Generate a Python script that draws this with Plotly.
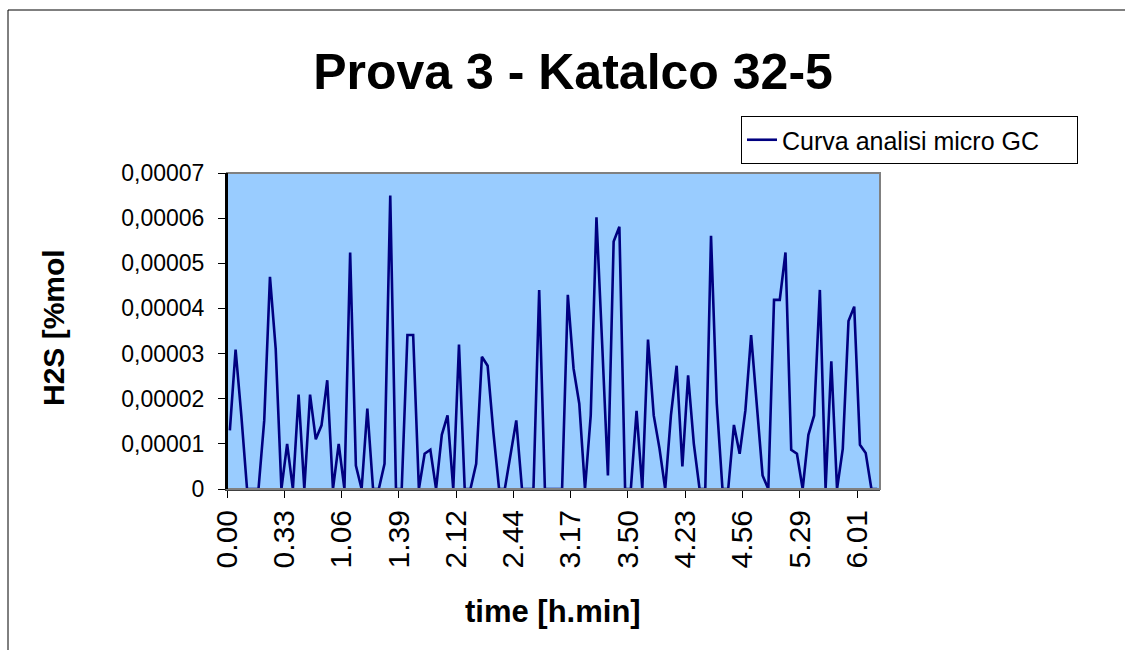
import plotly.graph_objects as go

# H2S values (units of 1e-5 %mol), one point per micro GC analysis
h2s_e5 = [
    1.30, 3.09, 1.63, 0, 0, 0, 1.52, 4.70, 3.11, 0,
    1.00, 0, 2.09, 0, 2.09, 1.10, 1.41, 2.41, 0, 1.00,
    0, 5.24, 0.52, 0, 1.78, 0, 0, 0.56, 6.50, 0,
    0, 3.41, 3.41, 0, 0.78, 0.87, 0, 1.20, 1.63, 0,
    3.20, 0, 0, 0.56, 2.93, 2.73, 1.26, 0, 0, 0.74,
    1.52, 0, 0, 0, 4.41, 0, 0, 0, 0, 4.30,
    2.67, 1.89, 0, 1.63, 6.02, 3.20, 0.30, 5.48, 5.81, 0,
    0, 1.73, 0, 3.31, 1.63, 0.90, 0, 1.63, 2.73, 0.50,
    2.52, 1.00, 0, 0, 5.61, 1.90, 0, 0, 1.42, 0.78,
    1.74, 3.41, 1.75, 0.30, 0, 4.19, 4.19, 5.24, 0.87, 0.78,
    0, 1.20, 1.63, 4.41, 0, 2.83, 0, 0.89, 3.72, 4.04,
    0.98, 0.80, 0, 0,
]
h2s = [v * 1e-5 for v in h2s_e5]
sample_index = list(range(len(h2s)))

x_tick_labels = ["0.00", "0.33", "1.06", "1.39", "2.12", "2.44",
                 "3.17", "3.50", "4.23", "4.56", "5.29", "6.01"]
x_tick_step = 10

y_tick_values = [0, 1e-5, 2e-5, 3e-5, 4e-5, 5e-5, 6e-5, 7e-5]
y_tick_labels = ["0", "0,00001", "0,00002", "0,00003", "0,00004",
                 "0,00005", "0,00006", "0,00007"]

FONT = "Liberation Sans, Arial, sans-serif"

# plot area pixel geometry
L, R, T, B = 227, 880, 173, 489
W, H = 1125, 650
pw, ph = R - L, B - T

def px(x):
    return (x - L) / pw

def py(y):
    return (B - y) / ph

fig = go.Figure()
fig.add_trace(go.Scatter(
    x=sample_index, y=h2s, mode="lines",
    name="Curva analisi micro GC",
    line=dict(color="#000080", width=2.6),
))

fig.update_layout(
    width=W, height=H,
    margin=dict(l=L, r=W - R, t=T, b=H - B),
    paper_bgcolor="white",
    plot_bgcolor="#99CCFF",
    font=dict(family=FONT, color="black"),
    showlegend=True,
    legend=dict(
        orientation="h",
        x=px(741), y=py(116), xanchor="left", yanchor="top",
        bgcolor="white", bordercolor="black", borderwidth=1,
        font=dict(size=25, family=FONT),
        itemwidth=30,
        entrywidth=290, entrywidthmode="pixels",
    ),
    title=dict(
        text="<b>Prova 3 - Katalco 32-5</b>",
        font=dict(size=50, family=FONT),
        x=573 / W, xanchor="center", xref="container",
        y=1 - 71 / H, yanchor="middle", yref="container",
    ),
)

fig.update_xaxes(
    range=[-0.5, len(h2s) - 0.5],
    tickmode="array",
    tickvals=[k * x_tick_step - 0.5 for k in range(len(x_tick_labels))],
    ticktext=x_tick_labels,
    tickangle=-90,
    tickfont=dict(size=30, family=FONT),
    ticks="outside", ticklen=7, tickcolor="black",
    ticklabelstandoff=0,
    showgrid=False, zeroline=False,
    showline=True, linecolor="#404040", linewidth=2,
)
fig.update_yaxes(
    range=[0, 7e-5],
    tickmode="array",
    tickvals=y_tick_values,
    ticktext=y_tick_labels,
    tickfont=dict(size=23, family=FONT),
    ticks="outside", ticklen=7, tickcolor="black",
    ticklabelstandoff=9,
    showgrid=False, zeroline=False,
    showline=True, linecolor="black", linewidth=2,
)

# plot area border (top/right gray) and chart frame
fig.add_shape(type="rect", xref="paper", yref="paper", x0=0, y0=0, x1=1, y1=1,
              line=dict(color="#808080", width=2), layer="above")
fig.add_shape(type="line", xref="paper", yref="paper",
              x0=0, y0=0, x1=0, y1=1, line=dict(color="black", width=2), layer="above")
fig.add_shape(type="line", xref="paper", yref="paper",
              x0=px(8), y0=py(10), x1=px(1130), y1=py(10),
              line=dict(color="black", width=1))
fig.add_shape(type="line", xref="paper", yref="paper",
              x0=px(8), y0=py(10), x1=px(8), y1=py(660),
              line=dict(color="black", width=1))

fig.add_annotation(text="<b>H2S [%mol</b>", xref="paper", yref="paper",
                   x=px(53), y=py(328), textangle=-90, showarrow=False,
                   font=dict(size=30, family=FONT), xanchor="center", yanchor="middle")
fig.add_annotation(text="<b>time [h.min]</b>", xref="paper", yref="paper",
                   x=px(553), y=py(611), showarrow=False,
                   font=dict(size=31, family=FONT), xanchor="center", yanchor="middle")

fig.write_html(
    "out.html",
    config={"displayModeBar": False},
    post_script="document.body.style.margin='0';document.body.style.overflow='hidden';",
)
